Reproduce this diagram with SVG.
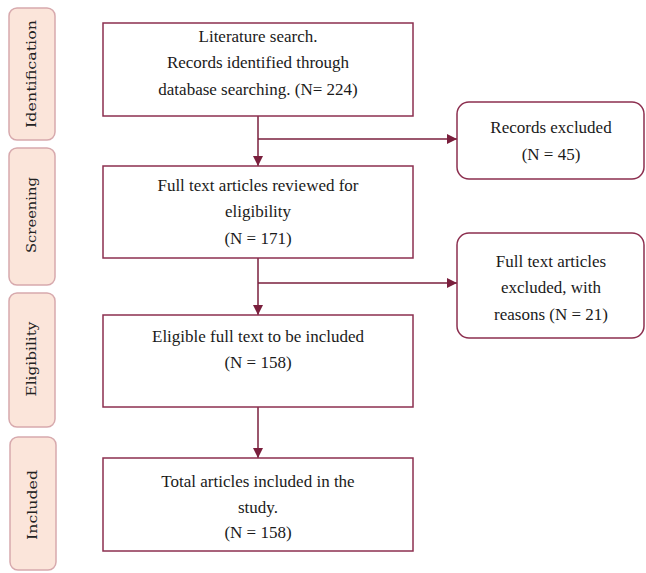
<svg xmlns="http://www.w3.org/2000/svg" width="646" height="573" viewBox="0 0 646 573">
<style>
.phase rect{fill:#fbe5da;stroke:#d7a9ad;stroke-width:1.5}
.phase text{font-family:'DejaVu Serif',serif;font-size:13.5px;fill:#222;text-anchor:middle}
.box rect{fill:#fff;stroke:#8c2f4f;stroke-width:1.5}
.box text{font-family:'Liberation Serif','Times New Roman',serif;font-size:17px;fill:#1a1a1a;text-anchor:middle}
.conn path{fill:none;stroke:#7a1f3d;stroke-width:1.5}
</style>
<defs>
<marker id="ah" viewBox="0 0 10 10" refX="10" refY="5" markerWidth="10" markerHeight="10" markerUnits="userSpaceOnUse" orient="auto">
<path d="M0,0 L10,5 L0,10 z" fill="#7a1f3d"/>
</marker>
</defs>
<rect width="646" height="573" fill="#fff"/>

<g id="phase-identification" class="phase">
<rect x="9" y="8" width="46" height="132" rx="8"/>
<text font-family="DejaVu Serif" font-size="13.5" transform="translate(36,74) rotate(-90)" textLength="108" lengthAdjust="spacingAndGlyphs">Identification</text>
</g>
<g id="phase-screening" class="phase">
<rect x="9" y="148" width="46" height="137" rx="8"/>
<text font-family="DejaVu Serif" font-size="13.5" transform="translate(36,215) rotate(-90)" textLength="76" lengthAdjust="spacingAndGlyphs">Screening</text>
</g>
<g id="phase-eligibility" class="phase">
<rect x="9" y="293" width="46" height="134" rx="8"/>
<text font-family="DejaVu Serif" font-size="13.5" transform="translate(36,359) rotate(-90)" textLength="75" lengthAdjust="spacingAndGlyphs">Eligibility</text>
</g>
<g id="phase-included" class="phase">
<rect x="10" y="437" width="46" height="133" rx="8"/>
<text font-family="DejaVu Serif" font-size="13.5" transform="translate(37,505) rotate(-90)" textLength="70" lengthAdjust="spacingAndGlyphs">Included</text>
</g>

<g class="conn" id="connectors">
<path d="M258,116 V166" marker-end="url(#ah)"/>
<path d="M258,139 H457" marker-end="url(#ah)"/>
<path d="M258,258 V315" marker-end="url(#ah)"/>
<path d="M258,283 H457" marker-end="url(#ah)"/>
<path d="M258,407 V458" marker-end="url(#ah)"/>
</g>

<g id="n-search" class="box">
<rect x="103" y="23" width="310" height="93"/>
<text font-family="Liberation Serif" font-size="17" x="258" y="42">Literature search.</text>
<text font-family="Liberation Serif" font-size="17" x="258" y="68">Records identified through</text>
<text font-family="Liberation Serif" font-size="17" x="258" y="95">database searching. (N= 224)</text>
</g>
<g id="n-reviewed" class="box">
<rect x="103" y="166" width="310" height="92"/>
<text font-family="Liberation Serif" font-size="17" x="258" y="191">Full text articles reviewed for</text>
<text font-family="Liberation Serif" font-size="17" x="258" y="217">eligibility</text>
<text font-family="Liberation Serif" font-size="17" x="258" y="244">(N = 171)</text>
</g>
<g id="n-eligible" class="box">
<rect x="103" y="315" width="310" height="92"/>
<text font-family="Liberation Serif" font-size="17" x="258" y="342">Eligible full text to be included</text>
<text font-family="Liberation Serif" font-size="17" x="258" y="368">(N = 158)</text>
</g>
<g id="n-included" class="box">
<rect x="103" y="458" width="310" height="93"/>
<text font-family="Liberation Serif" font-size="17" x="258" y="487">Total articles included in the</text>
<text font-family="Liberation Serif" font-size="17" x="258" y="513">study.</text>
<text font-family="Liberation Serif" font-size="17" x="258" y="538">(N = 158)</text>
</g>
<g id="n-excluded1" class="box">
<rect x="457" y="102" width="187" height="77" rx="12"/>
<text font-family="Liberation Serif" font-size="17" x="551" y="133">Records excluded</text>
<text font-family="Liberation Serif" font-size="17" x="551" y="160">(N = 45)</text>
</g>
<g id="n-excluded2" class="box">
<rect x="457" y="233" width="187" height="105" rx="12"/>
<text font-family="Liberation Serif" font-size="17" x="551" y="267">Full text articles</text>
<text font-family="Liberation Serif" font-size="17" x="551" y="293">excluded, with</text>
<text font-family="Liberation Serif" font-size="17" x="551" y="320">reasons (N = 21)</text>
</g>
</svg>
